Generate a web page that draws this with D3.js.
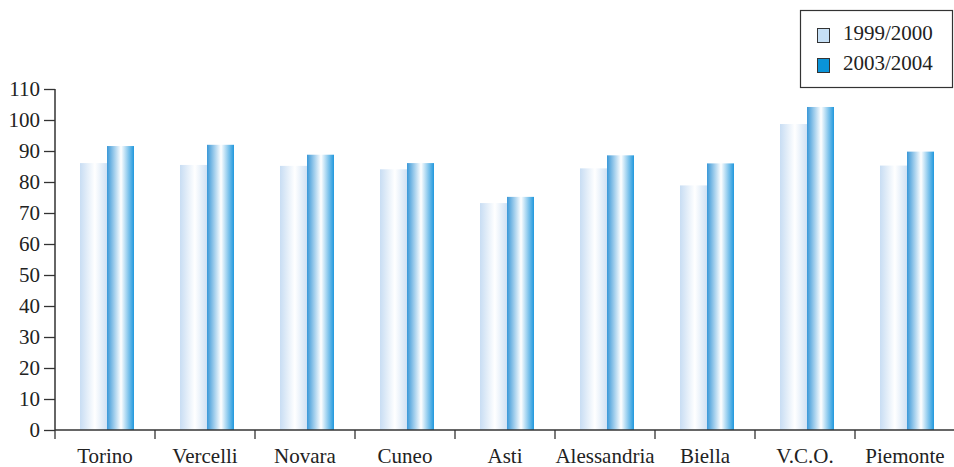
<!DOCTYPE html>
<html><head><meta charset="utf-8">
<script src="https://cdn.jsdelivr.net/npm/d3@7"></script>
<style>body{margin:0;background:#fff}svg{display:block}text{font-family:"Liberation Serif",serif;fill:#222}</style>
</head><body><svg id="c" width="954" height="467"></svg>
<script>
const categories = ["Torino","Vercelli","Novara","Cuneo","Asti","Alessandria","Biella","V.C.O.","Piemonte"];
const series = ["1999/2000","2003/2004"];
const values1999 = [86.1, 85.5, 85.2, 84.1, 73.2, 84.4, 78.9, 98.7, 85.3];
const values2003 = [91.6, 92.0, 88.8, 86.1, 75.2, 88.6, 86.0, 104.2, 89.8];
const yTicks = [0,10,20,30,40,50,60,70,80,90,100,110];

const svg = d3.select("#c");
const x = d3.scaleBand().domain(categories).range([55, 955]).padding(0);
const xs = d3.scaleBand().domain(series).range([25, 79]);
const y = d3.scaleLinear().domain([0, 110]).range([430, 89]);

const defs = svg.append("defs");
const g1 = defs.append("linearGradient").attr("id","gl").attr("x1","0").attr("x2","1").attr("y1","0").attr("y2","0");
[["0%","#c8ddf3"],["55%","#ffffff"],["100%","#cfe1f4"]].forEach(s=>g1.append("stop").attr("offset",s[0]).attr("stop-color",s[1]));
const g2 = defs.append("linearGradient").attr("id","gd").attr("x1","0").attr("x2","1").attr("y1","0").attr("y2","0");
[["0%","#3a98d8"],["52%","#ffffff"],["100%","#2198dd"]].forEach(s=>g2.append("stop").attr("offset",s[0]).attr("stop-color",s[1]));

const data = categories.map((c,i)=>({c, v:[values1999[i], values2003[i]]}));
const fills = ["url(#gl)","url(#gd)"];
data.forEach(d=>{
  series.forEach((s,j)=>{
    svg.append("rect").attr("x", x(d.c)+xs(s)).attr("width", xs.bandwidth())
      .attr("y", y(d.v[j])).attr("height", y(0)-y(d.v[j])).attr("fill", fills[j]);
  });
});

// y axis
const ya = svg.append("g").attr("transform","translate(55,0)")
  .call(d3.axisLeft(y).tickValues(yTicks).tickSize(11).tickPadding(4).tickFormat(d3.format("d")));
ya.select(".domain").attr("d","M0,89V430").attr("stroke","#333").attr("stroke-width",1.5);
ya.selectAll(".tick line").attr("stroke","#333").attr("stroke-width",1.3);
ya.selectAll(".tick text").attr("font-size",21).attr("fill","#222").attr("font-family","Liberation Serif");

// x axis
const xa = svg.append("g").attr("transform","translate(0,430)");
xa.append("line").attr("x1",55).attr("x2",954).attr("stroke","#333").attr("stroke-width",1.5);
categories.forEach(c=>{
  xa.append("line").attr("x1",x(c)).attr("x2",x(c)).attr("y1",0).attr("y2",9).attr("stroke","#333").attr("stroke-width",1.3);
});
categories.forEach(c=>{
  xa.append("text").attr("x", x(c)+x.bandwidth()/2).attr("y",33).attr("text-anchor","middle")
    .attr("font-size",21).text(c);
});

// legend
const lg = svg.append("g");
lg.append("rect").attr("x",800.5).attr("y",10.5).attr("width",152).attr("height",77).attr("fill","#fff").attr("stroke","#333").attr("stroke-width",1.2);
const swatch = ["#c6e0f6","#0a94d9"];
series.forEach((s,j)=>{
  lg.append("rect").attr("x",817.5).attr("y",28.5+j*30).attr("width",12).attr("height",14).attr("fill",swatch[j]).attr("stroke","#333").attr("stroke-width",1);
  lg.append("text").attr("x",843).attr("y",40+j*30).attr("font-size",21).text(s);
});
</script></body></html>
